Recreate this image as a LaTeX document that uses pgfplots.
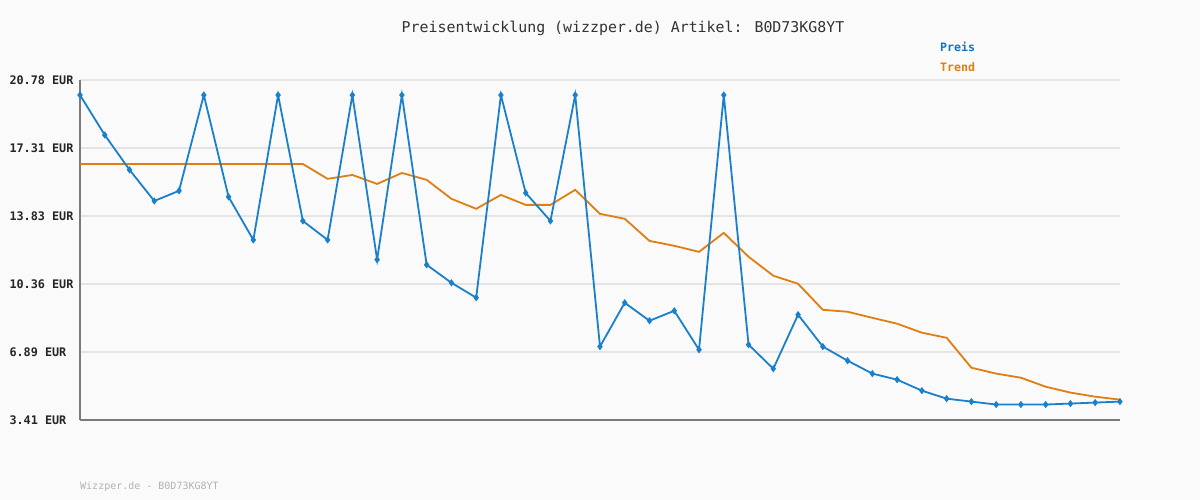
\documentclass[border=0pt]{standalone}
\usepackage{fontspec}
\usepackage{pgfplots}
\pgfplotsset{compat=1.18}
\newfontfamily\mono{DejaVu Sans Mono}

\definecolor{bg}{HTML}{FAFAFA}
\definecolor{preis}{HTML}{1A80CC}
\definecolor{trend}{HTML}{E07F10}
\definecolor{gridc}{HTML}{E4E4E4}
\definecolor{axc}{HTML}{7A7A7A}

\begin{document}
\begin{tikzpicture}
\fill[bg] (0,0) rectangle (1200bp,500bp);
\useasboundingbox (0,0) rectangle (1200bp,500bp);
\begin{axis}[
  at={(80bp,80bp)}, anchor=south west,
  scale only axis,
  width=1040bp, height=340bp,
  xmin=0, xmax=42,
  ymin=3.41, ymax=20.78,
  axis x line=bottom, axis y line=left,
  axis line style={-, draw=axc, line width=2.4bp},
  xtick=\empty,
  ytick={3.41,6.884,10.358,13.832,17.306,20.78},
  yticklabels={3.41 EUR,6.89 EUR,10.36 EUR,13.83 EUR,17.31 EUR,20.78 EUR},
  yticklabel style={anchor=west, xshift=-74bp, font=\mono\bfseries\fontsize{11.8bp}{13bp}\selectfont, text=black!85},
  major tick length=0pt,
  ymajorgrids,
  grid style={draw=gridc, line width=2.2bp},
  clip=false,
]
\addplot[trend, line width=1.8bp, no marks] coordinates {
(0,16.49) (1,16.49) (2,16.49) (3,16.49) (4,16.49) (5,16.49) (6,16.49) (7,16.49) (8,16.49) (9,16.49)
(10,15.73) (11,15.93) (12,15.47) (13,16.03) (14,15.68) (15,14.71) (16,14.20) (17,14.91) (18,14.40) (19,14.40)
(20,15.17) (21,13.94) (22,13.69) (23,12.56) (24,12.31) (25,12.00) (26,12.97) (27,11.75) (28,10.78) (29,10.37)
(30,9.04) (31,8.94) (32,8.63) (33,8.33) (34,7.87) (35,7.61) (36,6.08) (37,5.78) (38,5.57) (39,5.11)
(40,4.81) (41,4.60) (42,4.45)
};
\addplot[preis, line width=1.8bp, mark=diamond*, mark size=2.2bp] coordinates {
(0,20.01) (1,17.97) (2,16.19) (3,14.60) (4,15.12) (5,20.01) (6,14.81) (7,12.61) (8,20.01) (9,13.58)
(10,12.61) (11,20.01) (12,11.60) (13,20.01) (14,11.34) (15,10.42) (16,9.66) (17,20.01) (18,15.01) (19,13.58)
(20,20.01) (21,7.16) (22,9.40) (23,8.48) (24,8.99) (25,7.00) (26,20.01) (27,7.26) (28,6.03) (29,8.79)
(30,7.16) (31,6.44) (32,5.78) (33,5.47) (34,4.91) (35,4.50) (36,4.35) (37,4.20) (38,4.20) (39,4.20)
(40,4.25) (41,4.30) (42,4.35)
};
\end{axis}
\node[font=\mono\fontsize{14.9bp}{17bp}\selectfont, text=black!80] at (623bp,472bp) {Preisentwicklung (wizzper.de) Artikel: B0D73KG8YT};
\node[anchor=west, inner sep=0pt, font=\mono\bfseries\fontsize{11.6bp}{13bp}\selectfont, text=preis!90!black] at (940bp,453bp) {Preis};
\node[anchor=west, inner sep=0pt, font=\mono\bfseries\fontsize{11.6bp}{13bp}\selectfont, text=trend] at (940bp,433bp) {Trend};
\node[anchor=west, inner sep=0pt, font=\mono\fontsize{10bp}{12bp}\selectfont, text=black!30] at (80bp,13bp) {Wizzper.de - B0D73KG8YT};
\end{tikzpicture}
\end{document}
